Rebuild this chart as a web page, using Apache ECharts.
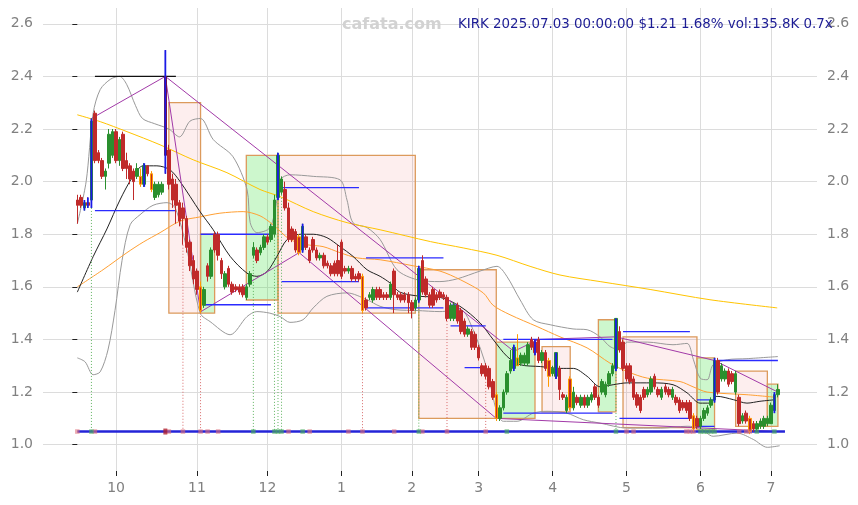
<!DOCTYPE html>
<html><head><meta charset="utf-8">
<script src="https://cdn.jsdelivr.net/npm/echarts@6/dist/echarts.min.js"></script>
<style>html,body{margin:0;padding:0;background:#fff}#c{width:858px;height:505px}</style>
</head><body><div id="c"></div>
<script>
// ---- data ----
// month tick positions (trading-day index) and labels
const monthTicks = [11,34,54,75,95,114,135,156,177,197];
const monthLabels = ['10','11','12','1','2','3','4','5','6','7'];
const yTicks = [1.0,1.2,1.4,1.6,1.8,2.0,2.2,2.4,2.6];
// daily candles [open, close, low, high], 2024-09-16 .. 2025-07-03
const ohlc = [
[1.93,1.91,1.84,1.95],[1.94,1.91,1.90,1.95],[1.90,1.92,1.89,1.93],[1.92,1.91,1.90,1.94],[1.93,2.23,1.90,2.24],
[2.26,2.08,2.07,2.27],[2.11,2.08,2.07,2.12],[2.08,2.02,2.01,2.09],[2.02,2.04,1.97,2.05],[2.07,2.18,2.05,2.20],
[2.10,2.19,2.09,2.20],[2.19,2.08,2.07,2.20],[2.08,2.16,2.06,2.17],[2.18,2.05,2.04,2.19],[2.08,2.05,2.01,2.11],
[2.06,2.01,1.99,2.07],[2.04,2.00,1.93,2.05],[2.02,2.05,2.01,2.07],[2.02,1.99,1.98,2.05],[1.99,2.06,1.98,2.07],
[2.06,2.03,2.02,2.06],[2.03,1.97,1.96,2.04],[1.94,1.99,1.93,2.00],[1.95,1.99,1.94,2.00],[1.96,1.99,1.95,2.00],
[2.40,2.10,2.03,2.50],[2.12,1.99,1.97,2.14],[2.01,1.93,1.90,2.03],[1.99,1.91,1.84,2.01],[1.92,1.85,1.83,1.93],
[1.90,1.86,1.76,1.92],[1.86,1.75,1.73,1.87],[1.77,1.68,1.66,1.78],[1.70,1.63,1.61,1.72],[1.66,1.59,1.57,1.67],
[1.60,1.51,1.50,1.62],[1.53,1.59,1.52,1.60],[1.68,1.64,1.62,1.69],[1.64,1.74,1.63,1.75],[1.80,1.74,1.73,1.81],
[1.80,1.72,1.70,1.81],[1.70,1.65,1.63,1.71],[1.60,1.65,1.59,1.66],[1.67,1.61,1.60,1.68],[1.61,1.58,1.57,1.62],
[1.60,1.59,1.58,1.61],[1.60,1.58,1.57,1.61],[1.60,1.57,1.56,1.61],[1.56,1.60,1.55,1.61],[1.61,1.65,1.60,1.66],
[1.72,1.75,1.71,1.77],[1.74,1.70,1.69,1.75],[1.73,1.75,1.72,1.76],[1.75,1.79,1.74,1.80],[1.79,1.77,1.76,1.80],
[1.78,1.83,1.77,1.84],[1.80,1.93,1.79,1.95],[1.94,2.10,1.93,2.11],[1.96,2.01,1.95,2.02],[1.97,1.90,1.89,2.00],
[1.90,1.78,1.77,1.92],[1.82,1.78,1.77,1.83],[1.81,1.74,1.73,1.82],[1.79,1.73,1.72,1.80],[1.74,1.83,1.73,1.84],
[1.79,1.75,1.74,1.80],[1.74,1.70,1.69,1.75],[1.78,1.74,1.73,1.79],[1.74,1.71,1.70,1.75],[1.71,1.72,1.70,1.73],
[1.72,1.68,1.67,1.73],[1.69,1.68,1.67,1.70],[1.68,1.65,1.64,1.69],[1.69,1.65,1.64,1.70],[1.70,1.65,1.64,1.76],
[1.77,1.64,1.63,1.78],[1.67,1.66,1.65,1.68],[1.66,1.67,1.65,1.68],[1.67,1.63,1.62,1.68],[1.64,1.63,1.62,1.65],
[1.65,1.63,1.62,1.66],[1.64,1.51,1.50,1.65],[1.55,1.52,1.51,1.56],[1.56,1.57,1.55,1.58],[1.55,1.59,1.54,1.60],
[1.59,1.56,1.55,1.60],[1.59,1.56,1.55,1.60],[1.57,1.56,1.55,1.58],[1.57,1.56,1.55,1.58],[1.56,1.61,1.55,1.62],
[1.66,1.57,1.50,1.67],[1.57,1.56,1.55,1.58],[1.57,1.55,1.54,1.58],[1.57,1.55,1.54,1.58],[1.57,1.54,1.50,1.58],
[1.54,1.51,1.48,1.55],[1.52,1.55,1.51,1.56],[1.55,1.67,1.54,1.68],[1.70,1.58,1.57,1.72],[1.63,1.57,1.56,1.64],
[1.57,1.53,1.52,1.58],[1.59,1.53,1.52,1.60],[1.57,1.55,1.54,1.58],[1.58,1.56,1.55,1.59],[1.57,1.56,1.55,1.58],
[1.56,1.48,1.47,1.57],[1.48,1.53,1.47,1.54],[1.48,1.53,1.47,1.54],[1.53,1.47,1.46,1.54],[1.51,1.43,1.42,1.52],
[1.47,1.42,1.41,1.48],[1.42,1.44,1.41,1.45],[1.43,1.37,1.36,1.44],[1.42,1.37,1.36,1.43],[1.37,1.33,1.32,1.38],
[1.30,1.27,1.26,1.31],[1.30,1.26,1.25,1.31],[1.29,1.22,1.21,1.30],[1.24,1.18,1.17,1.25],[1.19,1.10,1.09,1.20],
[1.10,1.14,1.09,1.15],[1.14,1.20,1.13,1.21],[1.20,1.27,1.19,1.28],[1.28,1.32,1.27,1.36],[1.29,1.37,1.28,1.38],
[1.30,1.33,1.30,1.42],[1.31,1.34,1.30,1.35],[1.31,1.34,1.30,1.35],[1.31,1.38,1.30,1.39],[1.40,1.37,1.36,1.41],
[1.39,1.35,1.34,1.40],[1.40,1.32,1.31,1.41],[1.32,1.35,1.31,1.36],[1.35,1.29,1.28,1.36],[1.32,1.26,1.22,1.33],
[1.27,1.29,1.26,1.30],[1.26,1.35,1.25,1.35],[1.29,1.21,1.17,1.30],[1.19,1.18,1.17,1.20],[1.13,1.18,1.12,1.19],
[1.25,1.14,1.13,1.26],[1.14,1.20,1.13,1.22],[1.18,1.16,1.15,1.19],[1.15,1.18,1.14,1.19],[1.18,1.15,1.14,1.19],
[1.15,1.18,1.14,1.19],[1.17,1.19,1.16,1.20],[1.22,1.18,1.17,1.23],[1.18,1.15,1.14,1.19],[1.20,1.24,1.19,1.25],
[1.19,1.23,1.18,1.24],[1.23,1.27,1.22,1.28],[1.27,1.30,1.26,1.31],[1.29,1.48,1.28,1.48],[1.43,1.36,1.35,1.45],
[1.39,1.29,1.28,1.40],[1.30,1.25,1.24,1.31],[1.30,1.24,1.23,1.31],[1.25,1.18,1.17,1.26],[1.19,1.15,1.14,1.20],
[1.18,1.13,1.12,1.19],[1.21,1.18,1.17,1.22],[1.19,1.21,1.18,1.22],[1.20,1.25,1.19,1.26],[1.26,1.22,1.21,1.27],
[1.21,1.19,1.18,1.22],[1.18,1.21,1.17,1.22],[1.22,1.20,1.19,1.23],[1.21,1.19,1.18,1.22],[1.18,1.21,1.17,1.22],
[1.18,1.16,1.15,1.19],[1.17,1.13,1.12,1.18],[1.16,1.14,1.13,1.17],[1.16,1.13,1.12,1.17],[1.16,1.10,1.09,1.17],
[1.11,1.06,1.05,1.12],[1.10,1.07,1.06,1.11],[1.07,1.10,1.06,1.11],[1.10,1.13,1.09,1.14],[1.12,1.14,1.11,1.15],
[1.15,1.17,1.14,1.18],[1.17,1.32,1.16,1.33],[1.32,1.20,1.19,1.33],[1.25,1.30,1.24,1.31],[1.25,1.28,1.24,1.29],
[1.28,1.23,1.22,1.29],[1.27,1.24,1.23,1.28],[1.20,1.27,1.19,1.28],[1.18,1.08,1.07,1.19],[1.09,1.11,1.08,1.12],
[1.12,1.09,1.08,1.13],[1.10,1.05,1.04,1.11],[1.08,1.06,1.05,1.09],[1.06,1.08,1.05,1.09],[1.07,1.09,1.06,1.10],
[1.07,1.10,1.06,1.11],[1.08,1.10,1.07,1.11],[1.08,1.15,1.08,1.16],[1.13,1.19,1.12,1.20],[1.19,1.21,1.18,1.23]
];
const blueIdx = [2,3,4,19,25,57,64,97,124,130,136,153,181,198];
const orangeIdx = [18,21,35,63,81,119,125,134,140,175,191];
const darkIdx = [25];
// indicator lines: [index, price]
const maShort = [[0,1.58],[4.5,1.715],[8.4,1.82],[12.1,1.93],[15.8,2.02],[18.7,2.06],[22.6,2.06],[26.3,2.045],[29.2,2.0],[34.9,1.885],[38.6,1.817],[43.4,1.716],[48.2,1.652],[51,1.64],[53.9,1.658],[56.7,1.716],[59.6,1.78],[63.3,1.80],[67,1.80],[70.9,1.787],[74.6,1.753],[78.3,1.716],[82.3,1.665],[86,1.64],[88.8,1.615],[91.6,1.58],[97.4,1.564],[103,1.56],[108.7,1.526],[114.4,1.463],[118.1,1.40],[122.1,1.335],[125.8,1.304],[131.5,1.297],[137.1,1.29],[140.9,1.29],[144.8,1.26],[148.5,1.22],[152.2,1.228],[156.2,1.235],[163.5,1.235],[169.2,1.228],[173.2,1.197],[176.9,1.158],[179.7,1.158],[181.7,1.184],[186.4,1.171],[190.2,1.158],[193.9,1.165],[198.2,1.171]];
const maMid = [[0,1.60],[7.3,1.665],[14.1,1.73],[18.7,1.77],[23.5,1.806],[29.2,1.85],[34.9,1.866],[40.5,1.88],[47.1,1.886],[51.9,1.87],[55.6,1.836],[60.4,1.78],[65.3,1.76],[69.8,1.753],[74.6,1.73],[79.5,1.71],[86,1.703],[95.4,1.68],[103,1.66],[108.8,1.627],[115.3,1.577],[118.1,1.53],[122.9,1.494],[130.6,1.449],[137.1,1.41],[144.8,1.368],[151.3,1.31],[156.2,1.278],[161.9,1.253],[171.2,1.24],[174.9,1.22],[178.9,1.20],[190.2,1.19],[198.5,1.18]];
const maLong = [[0,2.254],[6.5,2.228],[14.1,2.19],[23.5,2.14],[32.9,2.083],[42.5,2.034],[51.9,1.97],[57.6,1.943],[67,1.886],[76.6,1.844],[86,1.817],[100.3,1.772],[109.6,1.748],[119.2,1.72],[128.6,1.678],[137.1,1.645],[148.5,1.62],[162.7,1.59],[179.7,1.551],[198.8,1.52]];
const bandUpper = [[0,1.84],[2.5,2.0],[4.5,2.26],[6.5,2.35],[9.5,2.39],[12,2.40],[14,2.37],[16.5,2.29],[18.5,2.24],[22,2.22],[26,2.20],[29,2.17],[32,2.23],[35,2.24],[38.6,2.16],[44.2,2.095],[48.2,1.97],[49.1,1.844],[51,1.806],[54.7,1.825],[56.7,1.93],[57.6,2.007],[60.4,2.026],[67,2.02],[74.6,2.007],[76.6,1.93],[78.3,1.844],[82.3,1.825],[86,1.78],[90.8,1.665],[96.5,1.627],[103,1.62],[107.8,1.63],[114.4,1.66],[119.2,1.678],[122,1.64],[125.8,1.55],[129.5,1.475],[134.3,1.456],[140.8,1.44],[144.8,1.437],[148.5,1.41],[151.3,1.373],[154.2,1.361],[156.2,1.39],[161.9,1.39],[169.2,1.38],[173.2,1.385],[175,1.323],[176.9,1.253],[178.9,1.247],[180.6,1.304],[184.6,1.323],[190.2,1.327],[199,1.335]];
const bandLower = [[0,1.33],[2.2,1.315],[4.5,1.266],[6.5,1.277],[8.7,1.36],[10.7,1.51],[12.7,1.70],[15,1.836],[17.8,1.874],[21.5,1.91],[25.5,1.92],[27.8,1.90],[31,1.75],[34.9,1.50],[37.7,1.468],[43.4,1.418],[48.2,1.487],[51,1.506],[54.7,1.50],[57.6,1.487],[60.4,1.465],[64.1,1.475],[67,1.52],[70.9,1.564],[76.6,1.577],[82.3,1.551],[86,1.526],[90.5,1.513],[96.5,1.51],[103,1.506],[108.8,1.513],[112.4,1.437],[116.4,1.285],[119.2,1.12],[121,1.089],[124.9,1.089],[129.5,1.12],[133.4,1.127],[139,1.12],[143.7,1.095],[148.5,1.082],[156.2,1.063],[165.6,1.063],[173.2,1.07],[176.9,1.063],[180.6,1.032],[187.4,1.044],[192,1.02],[196,0.99],[199.5,0.996]];
// zones [fromIndex, toIndex, top, bottom]
const pinkBoxes = [[26,35,2.30,1.50],[57,96,2.10,1.50],[97,119,1.665,1.10],[132,140,1.373,1.125],[155,176,1.41,1.065],[187,196,1.28,1.07]];
const greenBoxes = [[35,39,1.80,1.50],[48,57,2.10,1.55],[119,130,1.39,1.10],[148,153,1.475,1.125],[176,181,1.33,1.055],[196,199,1.23,1.07]];
// trend lines (index, price)
const trendPaths = [
  [[4,2.24],[25,2.40],[35,1.505]],
  [[25,2.40],[124,1.355],[131,1.40],[153,1.41],[181,1.32],[199,1.20]],
  [[35,1.505],[63,1.73],[119,1.10],[199,1.05]]
];
// level segments [fromIndex, toIndex, price]
const blueLevels = [[5,28,1.89],[35,55,1.80],[36,55,1.532],[58,80,1.977],[58,80,1.62],[82,104,1.71],[82,104,1.52],[106,108,1.53],[106,116,1.452],[110,116,1.293],[121,152,1.40],[121,152,1.12],[155,174,1.43],[154,174,1.10],[176,181,1.17],[176,181,1.07],[182,199,1.32]];
const blackLevels = [[5,28,2.40]];
const greenDrops = [4,50,56,57,58,97,153];
const redDrops = [30,35,81,105,116];
const baseLevel = 1.05;
const baseRange = [0,201];
const pinkMarks = [0,5,26,30,35,37,40,60,66,77,81,90,98,105,116,156,158,173,174,175,188,190,191];
const greenMarks = [4,50,56,57,58,64,97,122,153,177,178,179,180,181,193,198];
const strongMarks = [25];
const watermark = 'cafata.com';
const headline = 'KIRK 2025.07.03 00:00:00 $1.21 1.68% vol:135.8K 0.7x';

// ---- chart ----
const FONT = '"DejaVu Sans", sans-serif';
const BLUE = '#1a1ae6', ORANGE = '#ff9a00', DARKRED = '#8a1020';
const candleData = ohlc.map((r,i)=>{
  const v = [i, r[0], r[1], r[2], r[3]];
  if (darkIdx.includes(i)) return {value:v, itemStyle:{color:DARKRED,color0:DARKRED,borderColor:DARKRED,borderColor0:DARKRED}};
  if (orangeIdx.includes(i)) return {value:v, itemStyle:{borderColor:ORANGE,borderColor0:ORANGE}};
  return v;
});
const lowOf = i => ohlc[i][2];
const highOf = i => ohlc[i][3];
const lineS = (data, color, z, w) => ({type:'line', data, showSymbol:false, symbol:'none', smooth:0.3, z, silent:true,
  lineStyle:{color, width:w||1}});
const series = [];
const addSegs = (pairs, style, z) => pairs.forEach(p=>series.push({type:'line', data:[p[0],p[1]], showSymbol:false,
  symbol:'none', z, silent:true, lineStyle:Object.assign({}, style)}));

// grid lines (markLine forced to the bottom layer)
series.push({type:'line', data:[], z:0, silent:true, markLine:{z:0, silent:true, symbol:'none', label:{show:false},
  lineStyle:{color:'#dcdcdc', width:1, type:'solid'}, animation:false,
  data: monthTicks.map(v=>({xAxis:v})).concat(yTicks.map(v=>({yAxis:v})))}});
// zones
series.push({type:'line', data:[], z:1, silent:true, markArea:{z:1, silent:true, animation:false,
  itemStyle:{color:'rgba(240,120,120,0.13)', borderColor:'#dc9a5c', borderWidth:1.3},
  data: pinkBoxes.map(b=>[{coord:[b[0],b[2]]},{coord:[b[1],b[3]]}])}});
series.push({type:'line', data:[], z:1, silent:true, markArea:{z:1, silent:true, animation:false,
  itemStyle:{color:'rgba(60,225,60,0.26)', borderColor:'#dc9a5c', borderWidth:1.3},
  data: greenBoxes.map(b=>[{coord:[b[0],b[2]]},{coord:[b[1],b[3]]}])}});
// indicators
series.push(lineS(bandUpper,'#999999',2,1));
series.push(lineS(bandLower,'#999999',2,1));
series.push(lineS(maLong,'#ffc400',2,1));
series.push(lineS(maMid,'#ffa033',2,1));
series.push(lineS(maShort,'#222222',2,1));
// trend lines
trendPaths.forEach(p=>series.push({type:'line', data:p, showSymbol:false, symbol:'none', z:3, silent:true,
  lineStyle:{color:'#a23aa8', width:1}}));
// levels and drops
addSegs(blueLevels.map(s=>[[s[0],s[2]],[s[1],s[2]]]), {color:'#2b2bff',width:1.3,type:'solid'}, 3);
addSegs(blackLevels.map(s=>[[s[0],s[2]],[s[1],s[2]]]), {color:'#111111',width:1.1,type:'solid'}, 3);
addSegs(greenDrops.map(i=>[[i,lowOf(i)],[i,baseLevel]]), {color:'#5fb35f',width:1,type:[1,2]}, 3);
addSegs(redDrops.map(i=>[[i,lowOf(i)],[i,baseLevel]]), {color:'#d86a6a',width:1,type:[1,2]}, 3);
// baseline
series.push({type:'line', data:[[baseRange[0],baseLevel],[baseRange[1],baseLevel]], showSymbol:false, symbol:'none', z:3, silent:true,
  lineStyle:{color:'#2424d8', width:2.6}});
// candles
series.push({type:'candlestick', data:candleData, barWidth:3, z:4, silent:true,
  itemStyle:{color:'#2a8f2e', color0:'#bf2a2a', borderColor:'#2a8f2e', borderColor0:'#bf2a2a', borderWidth:1}});
// blue highlights over candles
addSegs(blueIdx.map(i=>[[i,lowOf(i)],[i,highOf(i)]]), {color:BLUE,width:1.8,type:'solid'}, 5);
// markers
series.push({type:'scatter', data:pinkMarks.map(i=>[i,baseLevel]), symbol:'rect', symbolSize:4.5, z:6, silent:true,
  itemStyle:{color:'rgba(222,110,120,0.75)'}});
series.push({type:'scatter', data:greenMarks.map(i=>[i,baseLevel]), symbol:'rect', symbolSize:4.5, z:6, silent:true,
  itemStyle:{color:'rgba(70,170,90,0.8)'}});
series.push({type:'scatter', data:strongMarks.map(i=>[i,baseLevel]), symbol:'rect', symbolSize:[4,6], z:6, silent:true,
  itemStyle:{color:'#b02030'}});

const yAxisBase = {type:'value', min:0.9, max:2.66, splitLine:{show:false}, axisLine:{show:false}};
const option = {
  animation:false,
  backgroundColor:'#ffffff',
  grid:{left:43, right:41, top:8, bottom:34, containLabel:false},
  xAxis:{type:'value', min:-9.75, max:210.1, splitLine:{show:false}, axisLine:{show:false},
    axisTick:{show:true, length:5, lineStyle:{color:'#222'}, customValues:monthTicks},
    axisLabel:{customValues:monthTicks, margin:10, color:'#808080', fontSize:14, fontFamily:FONT,
      formatter:v=>{const k=monthTicks.indexOf(Math.round(v)); return k>=0?monthLabels[k]:'';}}},
  yAxis:[
    Object.assign({}, yAxisBase, {position:'left',
      axisTick:{show:true, length:5, lineStyle:{color:'#222'}, customValues:yTicks},
      axisLabel:{customValues:yTicks, margin:10, color:'#808080', fontSize:14, fontFamily:FONT, formatter:v=>v.toFixed(1)}}),
    Object.assign({}, yAxisBase, {position:'right',
      axisTick:{show:false},
      axisLabel:{customValues:yTicks, margin:10, color:'#808080', fontSize:14, fontFamily:FONT, formatter:v=>v.toFixed(1)}})
  ],
  series,
  graphic:[
    {type:'text', left:342, top:17, z:10, style:{text:watermark, font:'bold 16px '+FONT, fill:'#d2d2d2'}},
    {type:'text', left:458, top:18, z:10, style:{text:headline, font:'13.4px '+FONT, fill:'#1c1c94'}}
  ]
};
const chart = echarts.init(document.getElementById('c'), null, {renderer:'canvas'});
chart.setOption(option);
</script>
</body></html>
